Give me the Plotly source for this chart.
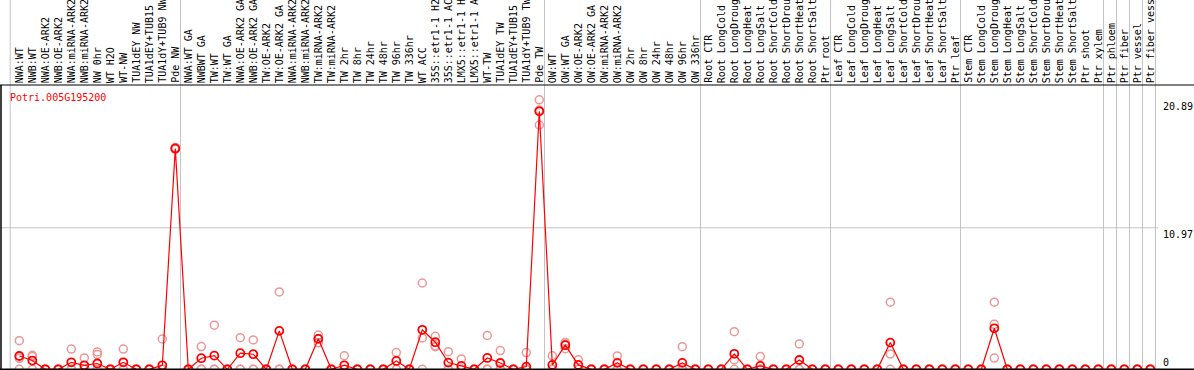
import plotly.graph_objects as go

W, H = 1194, 370

gene = "Potri.005G195200"

labels = [
    "NWA:WT", "NWB:WT", "NWA:OE-ARK2", "NWB:OE-ARK2", "NWA:miRNA-ARK2", "NWB:miRNA-ARK2",
    "NW 0hr", "WT H2O", "WT-NW", "TUA1dEY NW", "TUA1dEY+TUB15", "TUA1dY+TUB9 NW", "Pde NW",
    "NWA:WT GA", "NWBWT GA", "TW:WT", "TW:WT GA", "NWA:OE-ARK2 GA", "NWB:OE-ARK2 GA",
    "TW:OE-ARK2", "TW:OE-ARK2 GA", "NWA:miRNA-ARK2", "NWB:miRNA-ARK2", "TW:miRNA-ARK2",
    "TW:miRNA-ARK2", "TW 2hr", "TW 8hr", "TW 24hr", "TW 48hr", "TW 96hr", "TW 336hr",
    "WT ACC", "35S::etr1-1 H2", "35S::etr1-1 AC", "LMX5::etr1-1 H", "LMX5::etr1-1 A",
    "WT-TW", "TUA1dEY TW", "TUA1dEY+TUB15", "TUA1dY+TUB9 TW", "Pde TW",
    "OW:WT", "OW:WT GA", "OW:OE-ARK2", "OW:OE-ARK2 GA", "OW:miRNA-ARK2", "OW:miRNA-ARK2",
    "OW 2hr", "OW 8hr", "OW 24hr", "OW 48hr", "OW 96hr", "OW 336hr",
    "Root CTR", "Root LongCold", "Root LongDroug", "Root LongHeat", "Root LongSalt",
    "Root ShortCold", "Root ShortDrou", "Root ShortHeat", "Root ShortSalt", "Ptr root",
    "Leaf CTR", "Leaf LongCold", "Leaf LongDroug", "Leaf LongHeat", "Leaf LongSalt",
    "Leaf ShortCold", "Leaf ShortDrou", "Leaf ShortHeat", "Leaf ShortSalt", "Ptr leaf",
    "Stem CTR", "Stem LongCold", "Stem LongDroug", "Stem LongHeat", "Stem LongSalt",
    "Stem ShortCold", "Stem ShortDrou", "Stem ShortHeat", "Stem ShortSalt", "Ptr shoot",
    "Ptr xylem", "Ptr phloem", "Ptr fiber", "Ptr vessel", "Ptr fiber vess",
]

group_sizes = [13, 28, 12, 10, 10, 11, 1, 1, 1, 1]

mean_vals = [
    1.03, 0.68, 0, 0, 0.54, 0.31, 0.45, 0, 0.54, 0, 0, 0.31, 17.12,
    0, 0.86, 1.06, 0, 1.25, 1.17, 0, 2.98, 0, 0, 2.36, 0, 0.31, 0, 0, 0, 0.65, 0,
    3.06, 2.10, 0.52, 0.26, 0, 0.88, 0.49, 0, 0.21, 20.0,
    0.34, 1.87, 0.34, 0, 0, 0.5, 0, 0, 0, 0, 0.5, 0,
    0, 0, 1.2, 0, 0.26, 0, 0, 0.72, 0, 0,
    0, 0, 0, 0, 2.07, 0, 0, 0, 0, 0,
    0, 0, 3.18, 0, 0, 0, 0, 0, 0, 0,
    0, 0, 0, 0, 0,
]

rep_a = [
    2.22, 1.08, 0, 0, 1.57, 0.88, 1.34, 0, 1.57, 0, 0, 2.35, 17.2,
    0, 1.76, 3.42, 0, 2.45, 2.28, 0, 6.0, 0, 0, 2.65, 0, 1.05, 0, 0, 0, 1.3, 0,
    6.69, 2.56, 1.37, 0.8, 0, 2.62, 1.45, 0, 1.3, 20.89,
    1.05, 2.08, 0.74, 0, 0, 1.04, 0, 0, 0, 0, 1.75, 0,
    0, 0, 2.92, 0, 0.99, 0, 0, 1.97, 0, 0,
    0, 0, 0, 0, 5.2, 0, 0, 0, 0, 0,
    0, 0, 5.2, 0, 0, 0, 0, 0, 0, 0,
    0, 0, 0, 0, 0,
]

rep_b = [
    0.85, 1.0, 0, 0, 0, 0, 1.15, 0, 0, 0, 0, 0, 17.1,
    0, 0, 0, 0, 0, 0, 0, 0, 0, 0, 2.38, 0, 0, 0, 0, 0, 0, 0,
    2.43, 1.8, 0, 0, 0, 0, 0, 0, 0, 20.1,
    0, 1.95, 0, 0, 0, 0, 0, 0, 0, 0, 0, 0,
    0, 0, 0.75, 0, 0, 0, 0, 0, 0, 0,
    0, 0, 0, 0, 1.18, 0, 0, 0, 0, 0,
    0, 0, 3.5, 0, 0, 0, 0, 0, 0, 0,
    0, 0, 0, 0, 0,
]

rep_c = [
    0, 0, 0, 0, 0, 0, 0, 0, 0, 0, 0, 0, 17.05,
    0, 0, 0, 0, 0, 0, 0, 0, 0, 0, 2.05, 0, 0, 0, 0, 0, 0, 0,
    0, 1.75, 0, 0, 0, 0, 0, 0, 0, 18.94,
    0, 1.6, 0, 0, 0, 0, 0, 0, 0, 0, 0, 0,
    0, 0, 0, 0, 0, 0, 0, 0, 0, 0,
    0, 0, 0, 0, 0, 0, 0, 0, 0, 0,
    0, 0, 0.87, 0, 0, 0, 0, 0, 0, 0,
    0, 0, 0, 0, 0,
]

y_ticks = [0, 10.97, 20.89]
y_max = 22.04

# ---- layout helpers (pixel geometry) ----
X0, DX = 19.3, 13.0           # first category centre / spacing in px
PLOT_TOP, PLOT_BOT = 85.0, 369.3


def pyp(p):
    return (H - p) / H


xs = list(range(len(labels)))
red = "#ff0000"
pink = "rgb(238,150,150)"
grey = "#c4c4c4"
font_mono = "DejaVu Sans Mono"

fig = go.Figure()

rx, ry = [], []
for rep in (rep_a, rep_b, rep_c):
    rx += xs
    ry += rep
fig.add_trace(go.Scatter(
    x=rx, y=ry, mode="markers",
    marker=dict(symbol="circle-open", size=8, color=pink, line=dict(width=1.5, color=pink)),
    hoverinfo="skip",
))
fig.add_trace(go.Scatter(
    x=xs, y=mean_vals, mode="lines+markers",
    line=dict(color=red, width=1.2),
    marker=dict(symbol="circle-open", size=8, color=red, line=dict(width=1.8, color=red)),
    hovertext=labels,
))

shapes = []
# vertical group separators
bounds = [-0.7]
c = 0
for g in group_sizes:
    c += g
    bounds.append(c - 1 + 0.4)
for b in bounds:
    shapes.append(dict(type="line", xref="x", yref="paper", x0=b, x1=b, y0=0, y1=1,
                       line=dict(color=grey, width=1), layer="below"))
# horizontal mid grid line
shapes.append(dict(type="line", xref="paper", yref="y", x0=0, x1=1158 / W,
                   y0=y_ticks[1], y1=y_ticks[1], line=dict(color=grey, width=1), layer="below"))
# frame lines
shapes.append(dict(type="line", xref="paper", yref="paper", x0=0, x1=1,
                   y0=pyp(PLOT_TOP), y1=pyp(PLOT_TOP), line=dict(color="black", width=1)))
shapes.append(dict(type="line", xref="paper", yref="paper", x0=0, x1=1,
                   y0=pyp(PLOT_BOT), y1=pyp(PLOT_BOT), line=dict(color="black", width=1.5)))
shapes.append(dict(type="line", xref="paper", yref="paper", x0=1 / W, x1=1 / W,
                   y0=pyp(PLOT_BOT), y1=pyp(PLOT_TOP), line=dict(color="black", width=1.5)))

annotations = []
for i, lab in enumerate(labels):
    annotations.append(dict(
        x=i, y=pyp(PLOT_TOP - 1), xref="x", yref="paper", text=lab, showarrow=False,
        textangle=-90, xanchor="center", yanchor="bottom", borderpad=0,
        font=dict(family=font_mono, size=10, color="black"),
    ))
for t in y_ticks:
    annotations.append(dict(
        x=1162 / W, y=t, xref="paper", yref="y", text=f"{t:g}", showarrow=False,
        xanchor="left", yanchor="bottom" if t == 0 else "top", borderpad=0,
        font=dict(family=font_mono, size=10, color="black"),
    ))
annotations.append(dict(
    x=9 / W, y=pyp(97), xref="paper", yref="paper", text=gene, showarrow=False,
    xanchor="left", yanchor="middle", borderpad=0,
    font=dict(family=font_mono, size=10, color=red),
))

fig.update_layout(
    width=W, height=H,
    margin=dict(l=0, r=0, t=0, b=0),
    paper_bgcolor="white", plot_bgcolor="white",
    showlegend=False,
    xaxis=dict(range=[-X0 / DX, (W - X0) / DX], visible=False, fixedrange=True),
    yaxis=dict(range=[0, y_max], domain=[pyp(PLOT_BOT), pyp(PLOT_TOP)], visible=False,
               fixedrange=True),
    shapes=shapes,
    annotations=annotations,
)

fig.write_html(
    "out.html",
    config={"displayModeBar": False},
    post_script="document.body.style.margin='0';document.body.style.overflow='hidden';",
)
